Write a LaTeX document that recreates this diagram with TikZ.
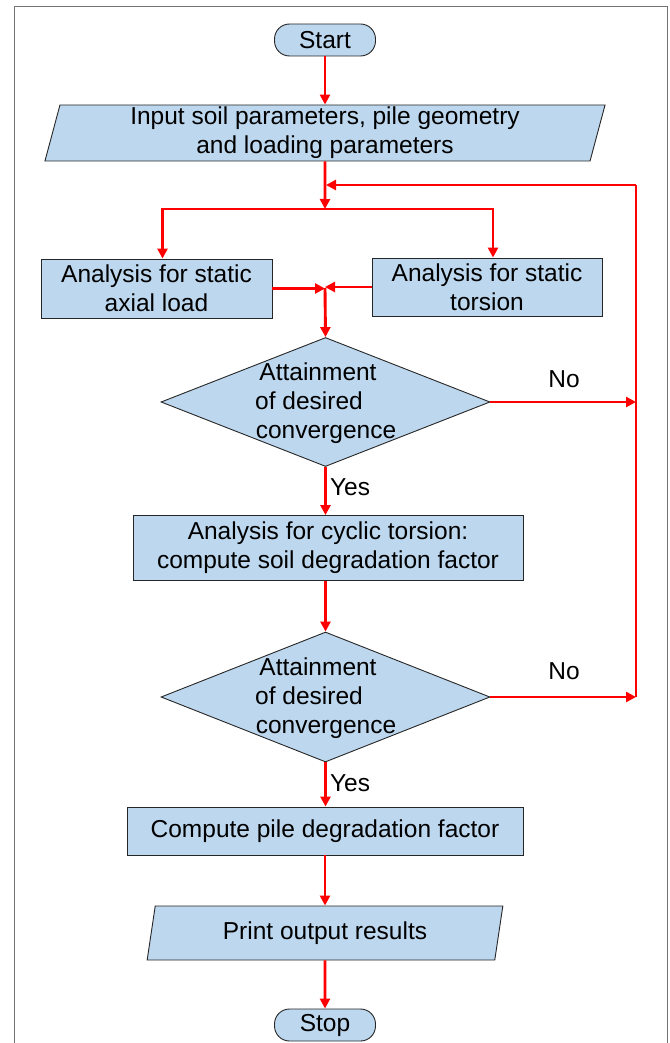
\documentclass[tikz,border=0pt]{standalone}
\usepackage{fontspec}
\setmainfont{Liberation Sans}
\usetikzlibrary{arrows.meta,shapes.geometric}
\definecolor{boxfill}{HTML}{BDD7EE}
\definecolor{flowred}{HTML}{FF0000}
\begin{document}
\begin{tikzpicture}[x=1pt,y=-1pt,
  every node/.style={font=\fontsize{24.5}{29}\selectfont},
  base/.style={draw=black!85, line width=0.9pt, fill=boxfill, inner sep=0pt, align=center},
  procbox/.style={base, rectangle},
  term/.style={base, rectangle, rounded corners=15pt, minimum width=101pt, minimum height=32pt},
  iobox/.style={base, trapezium, trapezium left angle=78, trapezium right angle=102, trapezium stretches=true},
  decision/.style={base, diamond},
  lbl/.style={inner sep=0pt, anchor=base},
  flowline/.style={draw=flowred, line width=2.9pt},
  flow/.style={flowline, -{Triangle[length=10pt,width=10pt]}},
  flowtwo/.style={flowline, {Triangle[length=10pt,width=10pt]}-{Triangle[length=10pt,width=10pt]}},
]
\useasboundingbox (0,0) rectangle (669,1043);
% frame
\draw[black!55, line width=1pt] (14,1043) -- (14,7) -- (667,7) -- (667,1043);

% nodes
\node[term] (start) at (325,40) {Start};
\node[iobox, minimum width=561pt, minimum height=56pt] (in) at (325,133) {Input soil parameters, pile geometry\\and loading parameters};
\node[procbox, minimum width=231pt, minimum height=59pt] (axial) at (156.5,288.5) {Analysis for static\\axial load};
\node[procbox, minimum width=230pt, minimum height=58pt] (tors) at (487,287) {Analysis for static\\torsion};
\node[decision, minimum width=329pt, minimum height=129pt] (d1) at (325.5,402) {};
\node[procbox, minimum width=390pt, minimum height=65pt] (cyc) at (328,548) {Analysis for cyclic torsion:\\compute soil degradation factor};
\node[decision, minimum width=329pt, minimum height=130pt] (d2) at (325.5,697) {};
\node[procbox, minimum width=396pt, minimum height=48pt] (pile) at (325,831) {Compute pile degradation factor};
\node[iobox, minimum width=356pt, minimum height=54pt] (out) at (325,933) {Print output results};
\node[term] (stop) at (325,1025) {Stop};

% decision texts
\node[lbl] (d1a) at (318,380) {Attainment};
\node[lbl] (d1b) at (309,409) {of desired};
\node[lbl] (d1c) at (326,438) {convergence};
\node[lbl] (d2a) at (318,675) {Attainment};
\node[lbl] (d2b) at (309,704) {of desired};
\node[lbl] (d2c) at (326,733) {convergence};

% branch labels
\node[lbl] (no1) at (564,387) {No};
\node[lbl] (no2) at (564,679) {No};
\node[lbl] (yes1) at (350,495) {Yes};
\node[lbl] (yes2) at (350,791) {Yes};

% helper coordinates
\coordinate (j1) at (325,209);
\coordinate (j2) at (325,288);
\coordinate (fbT) at (636,185);
\coordinate (m1) at (325,185);
\path ([xshift=6pt]axial.north) coordinate (aN);
\path ([xshift=6pt]tors.north) coordinate (tN);

% connectors
\draw[flow] (start) -- (in);
\draw[flow] (in.south) -- (j1);
\draw[flowtwo] (aN) |- (j1) -| (tN);
\draw[flow] (axial.east) -- (axial.east -| j2);
\draw[flow] (tors.west) -- (tors.west -| j2);
\draw[flow] (j2) -- (d1.north);
\draw[flow] (d1.south) -- (d1.south |- cyc.north);
\draw[flow] (cyc.south -| d2.north) -- (d2.north);
\draw[flow] (d2.south) -- (d2.south |- pile.north);
\draw[flow] (pile) -- (out);
\draw[flow] (out) -- (stop);
\draw[flowline] (d2.east -| fbT) -- (fbT);
\draw[flow, shorten >=1pt] (fbT) -- (m1);
\draw[flow] (d1.east) -- (d1.east -| fbT);
\draw[flow] (d2.east) -- (d2.east -| fbT);
\end{tikzpicture}
\end{document}
